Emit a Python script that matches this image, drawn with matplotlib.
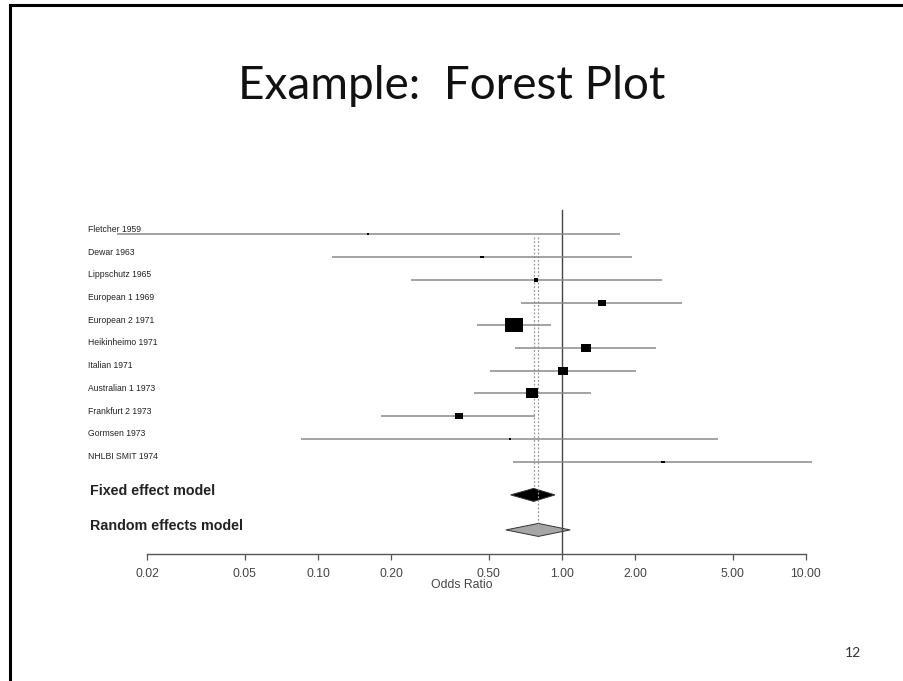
import matplotlib
matplotlib.use("Agg")
import matplotlib.pyplot as plt
from matplotlib.lines import Line2D
from matplotlib.path import Path
import numpy as np

# ── data ─────────────────────────────────────────────────────────────────────
studies = ["Fletcher 1959", "Dewar 1963", "Lippschutz 1965", "European 1 1969",
           "European 2 1971", "Heikinheimo 1971", "Italian 1971", "Australian 1 1973",
           "Frankfurt 2 1973", "Gormsen 1973", "NHLBI SMIT 1974"]
odds   = [0.16, 0.47, 0.78, 1.46, 0.635, 1.25, 1.01, 0.75, 0.378, 0.61, 2.59]
lower  = [0.015, 0.114, 0.24, 0.68, 0.447, 0.64, 0.507, 0.437, 0.182, 0.085, 0.63]
upper  = [1.73, 1.94, 2.58, 3.09, 0.90, 2.43, 2.01, 1.31, 0.775, 4.35, 10.6]
weight = [0.5, 1.1, 1.9, 8.2, 34.4, 13.6, 11.2, 18.0, 9.1, 0.7, 1.3]   # % (box area)

pooled_names = ["Fixed effect model", "Random effects model"]
pooled_or    = [0.765, 0.80]
pooled_lo    = [0.616, 0.589]
pooled_hi    = [0.936, 1.08]

ticks      = [0.02, 0.05, 0.10, 0.20, 0.50, 1.00, 2.00, 5.00, 10.00]
tick_texts = ["0.02", "0.05", "0.10", "0.20", "0.50", "1.00", "2.00", "5.00", "10.00"]

W, H = 904, 681
fig = plt.figure(figsize=(W / 100, H / 100), dpi=100)
fig.patch.set_facecolor("white")

# slide border (left + top)
fig.add_artist(Line2D([10 / W, 10 / W], [0, 1 - 5 / H], color="black", lw=2.2))
fig.add_artist(Line2D([10 / W, 1], [1 - 5 / H, 1 - 5 / H], color="black", lw=2.2))

fig.text(452 / W, 1 - 99 / H, "Example:  Forest Plot", ha="center", va="baseline",
         fontsize=33, family="Lato", color="#111111")
fig.text(853 / W, 1 - 653 / H, "12", ha="center", va="center",
         fontsize=10, family="Lato", color="#333333")

# ── forest plot axes ─────────────────────────────────────────────────────────
left_px, right_px, top_px, bot_px = 80, 830, 200, 553.8
ax = fig.add_axes([left_px / W, 1 - bot_px / H, (right_px - left_px) / W, (bot_px - top_px) / H])
ax.set_xscale("log")
px_per_dec = 244.0
ax.set_xlim(10 ** ((left_px - 562) / px_per_dec), 10 ** ((right_px - 562) / px_per_dec))
row_px = 22.74
ax.set_ylim((bot_px - 234.3) / row_px, (top_px - 234.3) / row_px)

for s in ["top", "right", "left"]:
    ax.spines[s].set_visible(False)
ax.spines["bottom"].set_bounds(ticks[0], ticks[-1])
ax.spines["bottom"].set_color("#555555")
ax.spines["bottom"].set_linewidth(1.0)
ax.set_yticks([])
ax.set_xticks(ticks)
ax.set_xticklabels(tick_texts)
ax.xaxis.set_minor_locator(matplotlib.ticker.NullLocator())
ax.tick_params(axis="x", length=4.3, width=0.9, color="#555555", pad=6,
               labelsize=8.8, labelcolor="#444444")
for lab in ax.get_xticklabels():
    lab.set_family("Liberation Sans")

fig.text(462 / W, 1 - 584.5 / H, "Odds Ratio", ha="center", va="center",
         fontsize=8.8, family="Liberation Sans", color="#444444")

n = len(studies)
rows = np.arange(n)
fixed_row, random_row = n + 0.46, n + 2.0
diamond_half = 6.5 / row_px

# reference line at 1 and pooled estimate lines
ax.plot([1, 1], [ax.get_ylim()[1] + 0.43, ax.get_ylim()[0]], color="#444444", lw=1.0)
ax.plot([pooled_or[0]] * 2, [0.1, fixed_row - diamond_half], color="#999999",
        lw=0.9, ls=(0, (1.5, 1.5)))
ax.plot([pooled_or[1]] * 2, [0.1, random_row - diamond_half], color="#999999",
        lw=0.9, ls=(0, (1.5, 1.5)))

# rectangular box marker (plot was stretched horizontally)
box = Path([(-1.0, -0.8), (1.0, -0.8), (1.0, 0.8), (-1.0, 0.8), (-1.0, -0.8)],
           [Path.MOVETO, Path.LINETO, Path.LINETO, Path.LINETO, Path.CLOSEPOLY])

for i in range(n):
    ax.plot([lower[i], upper[i]], [rows[i], rows[i]], color="#8a8a8a", lw=1.1,
            clip_on=False, solid_capstyle="butt")
    side_px = 2.9 * np.sqrt(weight[i])
    ax.plot(odds[i], rows[i], marker=box, markersize=side_px * 0.72,
            color="black", mec="black", mew=0, clip_on=False)
    ax.text(10 ** ((88 - 562) / px_per_dec), rows[i] - 0.22, studies[i],
            ha="left", va="center", fontsize=6.2, family="Liberation Sans",
            color="#222222")

for j, (r, fc) in enumerate([(fixed_row, "black"), (random_row, "#a6a6a6")]):
    xs = [pooled_lo[j], pooled_or[j], pooled_hi[j], pooled_or[j]]
    ys = [r, r - diamond_half, r, r + diamond_half]
    ax.fill(xs, ys, facecolor=fc, edgecolor="#333333", lw=0.7)
    ax.text(10 ** ((90 - 562) / px_per_dec), r - 0.19, pooled_names[j],
            ha="left", va="center", fontsize=10.3, fontweight="bold",
            family="Liberation Sans", color="#222222")

fig.savefig("out.png", dpi=100, facecolor="white")
